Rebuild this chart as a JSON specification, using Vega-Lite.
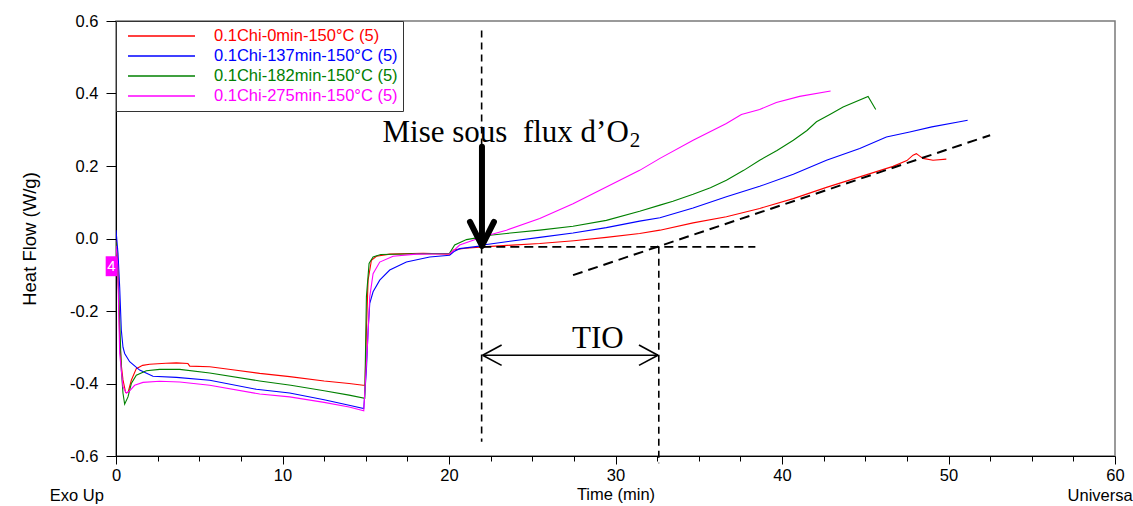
{
  "$schema": "https://vega.github.io/schema/vega-lite/v6.json",
  "width": 999,
  "height": 435,
  "autosize": {"type": "none"},
  "padding": {"left": 116, "top": 21, "right": 18, "bottom": 50},
  "background": "white",
  "config": {
    "font": "Liberation Sans",
    "view": {"stroke": "#7a7a7a", "strokeWidth": 1.5},
    "axis": {
      "labelFont": "Liberation Sans", "labelFontSize": 16.5, "labelColor": "black",
      "titleFont": "Liberation Sans", "titleFontSize": 16.5, "titleColor": "black", "titleFontWeight": "normal",
      "domainColor": "black", "domainWidth": 1, "tickColor": "black", "tickWidth": 1,
      "grid": false, "labelFlush": false, "labelOverlap": false, "labelBound": false
    }
  },
  "datasets": {
    "curves": [
      {"sample": "0.1Chi-0min-150°C (5)", "t": 0, "hf": -0.005},
      {"sample": "0.1Chi-0min-150°C (5)", "t": 0.1, "hf": -0.06},
      {"sample": "0.1Chi-0min-150°C (5)", "t": 0.22, "hf": -0.27},
      {"sample": "0.1Chi-0min-150°C (5)", "t": 0.32, "hf": -0.35},
      {"sample": "0.1Chi-0min-150°C (5)", "t": 0.42, "hf": -0.39},
      {"sample": "0.1Chi-0min-150°C (5)", "t": 0.58, "hf": -0.425},
      {"sample": "0.1Chi-0min-150°C (5)", "t": 0.72, "hf": -0.425},
      {"sample": "0.1Chi-0min-150°C (5)", "t": 0.92, "hf": -0.391},
      {"sample": "0.1Chi-0min-150°C (5)", "t": 1.22, "hf": -0.359},
      {"sample": "0.1Chi-0min-150°C (5)", "t": 1.6, "hf": -0.35},
      {"sample": "0.1Chi-0min-150°C (5)", "t": 2.02, "hf": -0.347},
      {"sample": "0.1Chi-0min-150°C (5)", "t": 3.0, "hf": -0.344},
      {"sample": "0.1Chi-0min-150°C (5)", "t": 3.63, "hf": -0.343},
      {"sample": "0.1Chi-0min-150°C (5)", "t": 4.32, "hf": -0.345},
      {"sample": "0.1Chi-0min-150°C (5)", "t": 4.43, "hf": -0.352},
      {"sample": "0.1Chi-0min-150°C (5)", "t": 5.63, "hf": -0.354},
      {"sample": "0.1Chi-0min-150°C (5)", "t": 7.0, "hf": -0.362},
      {"sample": "0.1Chi-0min-150°C (5)", "t": 8.63, "hf": -0.372},
      {"sample": "0.1Chi-0min-150°C (5)", "t": 10.43, "hf": -0.381},
      {"sample": "0.1Chi-0min-150°C (5)", "t": 12.5, "hf": -0.393},
      {"sample": "0.1Chi-0min-150°C (5)", "t": 14.0, "hf": -0.4},
      {"sample": "0.1Chi-0min-150°C (5)", "t": 14.84, "hf": -0.405},
      {"sample": "0.1Chi-0min-150°C (5)", "t": 14.96, "hf": -0.405},
      {"sample": "0.1Chi-0min-150°C (5)", "t": 15.04, "hf": -0.253},
      {"sample": "0.1Chi-0min-150°C (5)", "t": 15.14, "hf": -0.115},
      {"sample": "0.1Chi-0min-150°C (5)", "t": 15.34, "hf": -0.06},
      {"sample": "0.1Chi-0min-150°C (5)", "t": 15.64, "hf": -0.049},
      {"sample": "0.1Chi-0min-150°C (5)", "t": 16.44, "hf": -0.043},
      {"sample": "0.1Chi-0min-150°C (5)", "t": 18.45, "hf": -0.041},
      {"sample": "0.1Chi-0min-150°C (5)", "t": 20.04, "hf": -0.043},
      {"sample": "0.1Chi-0min-150°C (5)", "t": 20.3, "hf": -0.031},
      {"sample": "0.1Chi-0min-150°C (5)", "t": 21.0, "hf": -0.027},
      {"sample": "0.1Chi-0min-150°C (5)", "t": 22.04, "hf": -0.023},
      {"sample": "0.1Chi-0min-150°C (5)", "t": 23.5, "hf": -0.019},
      {"sample": "0.1Chi-0min-150°C (5)", "t": 25.45, "hf": -0.014},
      {"sample": "0.1Chi-0min-150°C (5)", "t": 27.5, "hf": -0.006},
      {"sample": "0.1Chi-0min-150°C (5)", "t": 29.45, "hf": 0.003},
      {"sample": "0.1Chi-0min-150°C (5)", "t": 31.45, "hf": 0.014},
      {"sample": "0.1Chi-0min-150°C (5)", "t": 32.67, "hf": 0.023},
      {"sample": "0.1Chi-0min-150°C (5)", "t": 34.66, "hf": 0.043},
      {"sample": "0.1Chi-0min-150°C (5)", "t": 36.66, "hf": 0.06},
      {"sample": "0.1Chi-0min-150°C (5)", "t": 38.66, "hf": 0.083},
      {"sample": "0.1Chi-0min-150°C (5)", "t": 40.68, "hf": 0.11},
      {"sample": "0.1Chi-0min-150°C (5)", "t": 42.67, "hf": 0.141},
      {"sample": "0.1Chi-0min-150°C (5)", "t": 44.67, "hf": 0.17},
      {"sample": "0.1Chi-0min-150°C (5)", "t": 46.67, "hf": 0.199},
      {"sample": "0.1Chi-0min-150°C (5)", "t": 47.5, "hf": 0.215},
      {"sample": "0.1Chi-0min-150°C (5)", "t": 47.87, "hf": 0.23},
      {"sample": "0.1Chi-0min-150°C (5)", "t": 48.07, "hf": 0.234},
      {"sample": "0.1Chi-0min-150°C (5)", "t": 48.25, "hf": 0.228},
      {"sample": "0.1Chi-0min-150°C (5)", "t": 48.47, "hf": 0.221},
      {"sample": "0.1Chi-0min-150°C (5)", "t": 49.07, "hf": 0.216},
      {"sample": "0.1Chi-0min-150°C (5)", "t": 49.87, "hf": 0.219},

      {"sample": "0.1Chi-137min-150°C (5)", "t": 0, "hf": 0.023},
      {"sample": "0.1Chi-137min-150°C (5)", "t": 0.12, "hf": -0.041},
      {"sample": "0.1Chi-137min-150°C (5)", "t": 0.22, "hf": -0.133},
      {"sample": "0.1Chi-137min-150°C (5)", "t": 0.32, "hf": -0.253},
      {"sample": "0.1Chi-137min-150°C (5)", "t": 0.42, "hf": -0.3},
      {"sample": "0.1Chi-137min-150°C (5)", "t": 0.52, "hf": -0.317},
      {"sample": "0.1Chi-137min-150°C (5)", "t": 0.82, "hf": -0.34},
      {"sample": "0.1Chi-137min-150°C (5)", "t": 1.42, "hf": -0.363},
      {"sample": "0.1Chi-137min-150°C (5)", "t": 2.22, "hf": -0.38},
      {"sample": "0.1Chi-137min-150°C (5)", "t": 3.63, "hf": -0.383},
      {"sample": "0.1Chi-137min-150°C (5)", "t": 5.63, "hf": -0.391},
      {"sample": "0.1Chi-137min-150°C (5)", "t": 8.43, "hf": -0.416},
      {"sample": "0.1Chi-137min-150°C (5)", "t": 10.43, "hf": -0.426},
      {"sample": "0.1Chi-137min-150°C (5)", "t": 12.5, "hf": -0.445},
      {"sample": "0.1Chi-137min-150°C (5)", "t": 14.0, "hf": -0.46},
      {"sample": "0.1Chi-137min-150°C (5)", "t": 14.88, "hf": -0.469},
      {"sample": "0.1Chi-137min-150°C (5)", "t": 15.04, "hf": -0.363},
      {"sample": "0.1Chi-137min-150°C (5)", "t": 15.14, "hf": -0.253},
      {"sample": "0.1Chi-137min-150°C (5)", "t": 15.24, "hf": -0.179},
      {"sample": "0.1Chi-137min-150°C (5)", "t": 15.44, "hf": -0.147},
      {"sample": "0.1Chi-137min-150°C (5)", "t": 15.84, "hf": -0.115},
      {"sample": "0.1Chi-137min-150°C (5)", "t": 16.44, "hf": -0.087},
      {"sample": "0.1Chi-137min-150°C (5)", "t": 17.44, "hf": -0.065},
      {"sample": "0.1Chi-137min-150°C (5)", "t": 18.84, "hf": -0.051},
      {"sample": "0.1Chi-137min-150°C (5)", "t": 20.04, "hf": -0.046},
      {"sample": "0.1Chi-137min-150°C (5)", "t": 20.3, "hf": -0.036},
      {"sample": "0.1Chi-137min-150°C (5)", "t": 20.64, "hf": -0.028},
      {"sample": "0.1Chi-137min-150°C (5)", "t": 21.84, "hf": -0.021},
      {"sample": "0.1Chi-137min-150°C (5)", "t": 22.04, "hf": -0.018},
      {"sample": "0.1Chi-137min-150°C (5)", "t": 23.45, "hf": -0.009},
      {"sample": "0.1Chi-137min-150°C (5)", "t": 25.45, "hf": 0.003},
      {"sample": "0.1Chi-137min-150°C (5)", "t": 27.45, "hf": 0.015},
      {"sample": "0.1Chi-137min-150°C (5)", "t": 29.45, "hf": 0.03},
      {"sample": "0.1Chi-137min-150°C (5)", "t": 31.45, "hf": 0.048},
      {"sample": "0.1Chi-137min-150°C (5)", "t": 32.67, "hf": 0.057},
      {"sample": "0.1Chi-137min-150°C (5)", "t": 34.66, "hf": 0.084},
      {"sample": "0.1Chi-137min-150°C (5)", "t": 36.66, "hf": 0.115},
      {"sample": "0.1Chi-137min-150°C (5)", "t": 38.66, "hf": 0.144},
      {"sample": "0.1Chi-137min-150°C (5)", "t": 40.68, "hf": 0.177},
      {"sample": "0.1Chi-137min-150°C (5)", "t": 42.67, "hf": 0.216},
      {"sample": "0.1Chi-137min-150°C (5)", "t": 44.67, "hf": 0.248},
      {"sample": "0.1Chi-137min-150°C (5)", "t": 46.27, "hf": 0.28},
      {"sample": "0.1Chi-137min-150°C (5)", "t": 47.67, "hf": 0.294},
      {"sample": "0.1Chi-137min-150°C (5)", "t": 49.0, "hf": 0.308},
      {"sample": "0.1Chi-137min-150°C (5)", "t": 50.67, "hf": 0.322},
      {"sample": "0.1Chi-137min-150°C (5)", "t": 51.15, "hf": 0.326},

      {"sample": "0.1Chi-182min-150°C (5)", "t": 0, "hf": -0.01},
      {"sample": "0.1Chi-182min-150°C (5)", "t": 0.1, "hf": -0.08},
      {"sample": "0.1Chi-182min-150°C (5)", "t": 0.22, "hf": -0.225},
      {"sample": "0.1Chi-182min-150°C (5)", "t": 0.32, "hf": -0.363},
      {"sample": "0.1Chi-182min-150°C (5)", "t": 0.42, "hf": -0.427},
      {"sample": "0.1Chi-182min-150°C (5)", "t": 0.52, "hf": -0.457},
      {"sample": "0.1Chi-182min-150°C (5)", "t": 0.72, "hf": -0.437},
      {"sample": "0.1Chi-182min-150°C (5)", "t": 0.92, "hf": -0.4},
      {"sample": "0.1Chi-182min-150°C (5)", "t": 1.22, "hf": -0.377},
      {"sample": "0.1Chi-182min-150°C (5)", "t": 1.82, "hf": -0.365},
      {"sample": "0.1Chi-182min-150°C (5)", "t": 2.62, "hf": -0.361},
      {"sample": "0.1Chi-182min-150°C (5)", "t": 3.83, "hf": -0.361},
      {"sample": "0.1Chi-182min-150°C (5)", "t": 5.63, "hf": -0.371},
      {"sample": "0.1Chi-182min-150°C (5)", "t": 8.63, "hf": -0.393},
      {"sample": "0.1Chi-182min-150°C (5)", "t": 10.5, "hf": -0.405},
      {"sample": "0.1Chi-182min-150°C (5)", "t": 12.5, "hf": -0.42},
      {"sample": "0.1Chi-182min-150°C (5)", "t": 14.0, "hf": -0.432},
      {"sample": "0.1Chi-182min-150°C (5)", "t": 14.94, "hf": -0.441},
      {"sample": "0.1Chi-182min-150°C (5)", "t": 15.04, "hf": -0.161},
      {"sample": "0.1Chi-182min-150°C (5)", "t": 15.2, "hf": -0.069},
      {"sample": "0.1Chi-182min-150°C (5)", "t": 15.44, "hf": -0.051},
      {"sample": "0.1Chi-182min-150°C (5)", "t": 15.9, "hf": -0.044},
      {"sample": "0.1Chi-182min-150°C (5)", "t": 18.0, "hf": -0.042},
      {"sample": "0.1Chi-182min-150°C (5)", "t": 20.03, "hf": -0.041},
      {"sample": "0.1Chi-182min-150°C (5)", "t": 20.34, "hf": -0.018},
      {"sample": "0.1Chi-182min-150°C (5)", "t": 21.05, "hf": -0.003},
      {"sample": "0.1Chi-182min-150°C (5)", "t": 21.84, "hf": 0.003},
      {"sample": "0.1Chi-182min-150°C (5)", "t": 22.04, "hf": 0.007},
      {"sample": "0.1Chi-182min-150°C (5)", "t": 23.45, "hf": 0.014},
      {"sample": "0.1Chi-182min-150°C (5)", "t": 25.45, "hf": 0.023},
      {"sample": "0.1Chi-182min-150°C (5)", "t": 27.45, "hf": 0.034},
      {"sample": "0.1Chi-182min-150°C (5)", "t": 29.45, "hf": 0.05},
      {"sample": "0.1Chi-182min-150°C (5)", "t": 31.45, "hf": 0.075},
      {"sample": "0.1Chi-182min-150°C (5)", "t": 32.67, "hf": 0.092},
      {"sample": "0.1Chi-182min-150°C (5)", "t": 33.45, "hf": 0.103},
      {"sample": "0.1Chi-182min-150°C (5)", "t": 34.66, "hf": 0.122},
      {"sample": "0.1Chi-182min-150°C (5)", "t": 35.7, "hf": 0.14},
      {"sample": "0.1Chi-182min-150°C (5)", "t": 36.66, "hf": 0.161},
      {"sample": "0.1Chi-182min-150°C (5)", "t": 37.7, "hf": 0.188},
      {"sample": "0.1Chi-182min-150°C (5)", "t": 38.66, "hf": 0.216},
      {"sample": "0.1Chi-182min-150°C (5)", "t": 39.7, "hf": 0.243},
      {"sample": "0.1Chi-182min-150°C (5)", "t": 40.68, "hf": 0.271},
      {"sample": "0.1Chi-182min-150°C (5)", "t": 41.5, "hf": 0.298},
      {"sample": "0.1Chi-182min-150°C (5)", "t": 42.07, "hf": 0.322},
      {"sample": "0.1Chi-182min-150°C (5)", "t": 42.9, "hf": 0.343},
      {"sample": "0.1Chi-182min-150°C (5)", "t": 43.67, "hf": 0.363},
      {"sample": "0.1Chi-182min-150°C (5)", "t": 45.17, "hf": 0.392},
      {"sample": "0.1Chi-182min-150°C (5)", "t": 45.63, "hf": 0.356},

      {"sample": "0.1Chi-275min-150°C (5)", "t": 0, "hf": -0.02},
      {"sample": "0.1Chi-275min-150°C (5)", "t": 0.1, "hf": -0.07},
      {"sample": "0.1Chi-275min-150°C (5)", "t": 0.22, "hf": -0.317},
      {"sample": "0.1Chi-275min-150°C (5)", "t": 0.42, "hf": -0.409},
      {"sample": "0.1Chi-275min-150°C (5)", "t": 0.62, "hf": -0.427},
      {"sample": "0.1Chi-275min-150°C (5)", "t": 0.82, "hf": -0.42},
      {"sample": "0.1Chi-275min-150°C (5)", "t": 1.12, "hf": -0.405},
      {"sample": "0.1Chi-275min-150°C (5)", "t": 1.62, "hf": -0.397},
      {"sample": "0.1Chi-275min-150°C (5)", "t": 2.62, "hf": -0.394},
      {"sample": "0.1Chi-275min-150°C (5)", "t": 3.83, "hf": -0.396},
      {"sample": "0.1Chi-275min-150°C (5)", "t": 5.63, "hf": -0.405},
      {"sample": "0.1Chi-275min-150°C (5)", "t": 8.63, "hf": -0.429},
      {"sample": "0.1Chi-275min-150°C (5)", "t": 10.43, "hf": -0.437},
      {"sample": "0.1Chi-275min-150°C (5)", "t": 12.5, "hf": -0.452},
      {"sample": "0.1Chi-275min-150°C (5)", "t": 14.0, "hf": -0.465},
      {"sample": "0.1Chi-275min-150°C (5)", "t": 14.88, "hf": -0.475},
      {"sample": "0.1Chi-275min-150°C (5)", "t": 15.04, "hf": -0.345},
      {"sample": "0.1Chi-275min-150°C (5)", "t": 15.14, "hf": -0.262},
      {"sample": "0.1Chi-275min-150°C (5)", "t": 15.24, "hf": -0.161},
      {"sample": "0.1Chi-275min-150°C (5)", "t": 15.44, "hf": -0.097},
      {"sample": "0.1Chi-275min-150°C (5)", "t": 15.84, "hf": -0.065},
      {"sample": "0.1Chi-275min-150°C (5)", "t": 16.64, "hf": -0.049},
      {"sample": "0.1Chi-275min-150°C (5)", "t": 18.04, "hf": -0.043},
      {"sample": "0.1Chi-275min-150°C (5)", "t": 20.04, "hf": -0.042},
      {"sample": "0.1Chi-275min-150°C (5)", "t": 20.24, "hf": -0.035},
      {"sample": "0.1Chi-275min-150°C (5)", "t": 20.64, "hf": -0.018},
      {"sample": "0.1Chi-275min-150°C (5)", "t": 21.45, "hf": -0.005},
      {"sample": "0.1Chi-275min-150°C (5)", "t": 22.04, "hf": 0.005},
      {"sample": "0.1Chi-275min-150°C (5)", "t": 23.45, "hf": 0.023},
      {"sample": "0.1Chi-275min-150°C (5)", "t": 25.45, "hf": 0.055},
      {"sample": "0.1Chi-275min-150°C (5)", "t": 27.45, "hf": 0.096},
      {"sample": "0.1Chi-275min-150°C (5)", "t": 29.45, "hf": 0.142},
      {"sample": "0.1Chi-275min-150°C (5)", "t": 31.45, "hf": 0.188},
      {"sample": "0.1Chi-275min-150°C (5)", "t": 32.67, "hf": 0.221},
      {"sample": "0.1Chi-275min-150°C (5)", "t": 34.66, "hf": 0.271},
      {"sample": "0.1Chi-275min-150°C (5)", "t": 36.66, "hf": 0.317},
      {"sample": "0.1Chi-275min-150°C (5)", "t": 37.56, "hf": 0.342},
      {"sample": "0.1Chi-275min-150°C (5)", "t": 38.66, "hf": 0.356},
      {"sample": "0.1Chi-275min-150°C (5)", "t": 39.66, "hf": 0.375},
      {"sample": "0.1Chi-275min-150°C (5)", "t": 41.06, "hf": 0.392},
      {"sample": "0.1Chi-275min-150°C (5)", "t": 42.92, "hf": 0.407}
    ],
    "vdash": [
      {"t": 21.96, "hf": 0.574, "t2": 21.96, "hf2": -0.561},
      {"t": 32.6, "hf": -0.023, "t2": 32.6, "hf2": -0.62}
    ],
    "hdash": [
      {"t": 22.0, "hf": -0.023, "t2": 38.4, "hf2": -0.023}
    ],
    "tangent": [
      {"t": 27.45, "hf": -0.101, "t2": 52.5, "hf2": 0.285}
    ],
    "bigarrow": [
      {"t": 21.98, "hf": 0.253, "t2": 21.98, "hf2": -0.01},
      {"t": 21.26, "hf": 0.046, "t2": 21.98, "hf2": -0.02},
      {"t": 22.7, "hf": 0.046, "t2": 21.98, "hf2": -0.02}
    ],
    "tioarrow": [
      {"t": 22.02, "hf": -0.322, "t2": 32.55, "hf2": -0.322},
      {"t": 22.02, "hf": -0.322, "t2": 23.16, "hf2": -0.294},
      {"t": 22.02, "hf": -0.322, "t2": 23.16, "hf2": -0.35},
      {"t": 32.55, "hf": -0.322, "t2": 31.41, "hf2": -0.294},
      {"t": 32.55, "hf": -0.322, "t2": 31.41, "hf2": -0.35}
    ],
    "serifbig": [
      {"t": 30.8, "hf": 0.266, "label": "Mise sous\u00a0 flux d’O"},
      {"t": 28.94, "hf": -0.303, "label": "TIO"}
    ],
    "serifsub": [
      {"t": 30.85, "hf": 0.252, "label": "2"}
    ],
    "corner": [
      {"t": -3.98, "hf": -0.725, "label": "Exo Up"},
      {"t": 57.15, "hf": -0.725, "label": "Universa"}
    ],
    "marker": [
      {"t": -0.62, "hf": -0.049, "t2": 0.06, "hf2": -0.104, "label": "4", "tc": -0.28, "hc": -0.077}
    ]
  },
  "encoding": {
    "x": {"field": "t", "type": "quantitative", "scale": {"domain": [0, 60], "nice": false, "zero": false}},
    "y": {"field": "hf", "type": "quantitative", "scale": {"domain": [-0.6, 0.6], "nice": false, "zero": false}}
  },
  "layer": [
    {
      "data": {"name": "curves"},
      "mark": {"type": "line", "strokeWidth": 1.1, "clip": true},
      "encoding": {
        "x": {"field": "t", "type": "quantitative",
          "axis": {
            "title": "Time (min)", "titlePadding": 3,
            "values": [0, 2.5, 5, 7.5, 10, 12.5, 15, 17.5, 20, 22.5, 25, 27.5, 30, 32.5, 35, 37.5, 40, 42.5, 45, 47.5, 50, 52.5, 55, 57.5, 60],
            "labelExpr": "datum.value % 10 === 0 ? format(datum.value, 'd') : ''",
            "tickSize": {"condition": {"test": "datum.value % 10 === 0", "value": 8}, "value": 5},
            "labelPadding": 3
          }
        },
        "y": {"field": "hf", "type": "quantitative",
          "axis": {
            "title": "Heat Flow (W/g)", "titlePadding": 30, "titleFontSize": 18.5,
            "values": [-0.6, -0.55, -0.5, -0.45, -0.4, -0.35, -0.3, -0.25, -0.2, -0.15, -0.1, -0.05, 0, 0.05, 0.1, 0.15, 0.2, 0.25, 0.3, 0.35, 0.4, 0.45, 0.5, 0.55, 0.6],
            "labelExpr": "round(datum.value * 100) % 20 === 0 ? (datum.value < -0.001 ? '-' + format(-datum.value, '.1f') : format(abs(datum.value), '.1f')) : ''",
            "tickSize": {"condition": {"test": "round(datum.value * 100) % 20 === 0", "value": 10}, "value": 5},
            "labelPadding": 8
          }
        },
        "color": {
          "field": "sample", "type": "nominal",
          "scale": {
            "domain": ["0.1Chi-0min-150°C (5)", "0.1Chi-137min-150°C (5)", "0.1Chi-182min-150°C (5)", "0.1Chi-275min-150°C (5)"],
            "range": ["#ff0000", "#0000ff", "#008000", "#ff00ff"]
          },
          "legend": {
            "title": null, "orient": "none", "legendX": 0, "legendY": 0,
            "symbolType": "stroke", "symbolSize": 4489, "symbolStrokeWidth": 1.5, "clipHeight": 20,
            "labelFont": "Liberation Sans", "labelFontSize": 16.5, "labelOffset": 18, "rowPadding": 0,
            "padding": 5, "symbolOffset": 6, "strokeColor": "#333333", "fillColor": "white",
            "labelLimit": 400,
            "encode": {"labels": {"update": {"fill": {"scale": "color", "field": "value"}}}}
          }
        }
      }
    },
    {
      "data": {"name": "vdash"},
      "mark": {"type": "rule", "color": "black", "strokeWidth": 1.6, "strokeDash": [7, 5]},
      "encoding": {"x2": {"field": "t2"}, "y2": {"field": "hf2"}}
    },
    {
      "data": {"name": "hdash"},
      "mark": {"type": "rule", "color": "black", "strokeWidth": 1.6, "strokeDash": [9, 5]},
      "encoding": {"x2": {"field": "t2"}, "y2": {"field": "hf2"}}
    },
    {
      "data": {"name": "tangent"},
      "mark": {"type": "rule", "color": "black", "strokeWidth": 2, "strokeDash": [10, 6]},
      "encoding": {"x2": {"field": "t2"}, "y2": {"field": "hf2"}}
    },
    {
      "data": {"name": "bigarrow"},
      "mark": {"type": "rule", "color": "black", "strokeWidth": 6, "strokeCap": "round"},
      "encoding": {"x2": {"field": "t2"}, "y2": {"field": "hf2"}}
    },
    {
      "data": {"name": "tioarrow"},
      "mark": {"type": "rule", "color": "black", "strokeWidth": 1.6},
      "encoding": {"x2": {"field": "t2"}, "y2": {"field": "hf2"}}
    },
    {
      "data": {"name": "serifbig"},
      "mark": {"type": "text", "font": "Liberation Serif", "fontSize": 31, "align": {"expr": "datum.label === 'TIO' ? 'center' : 'right'"}, "baseline": "alphabetic", "color": "black"},
      "encoding": {"text": {"field": "label"}}
    },
    {
      "data": {"name": "serifsub"},
      "mark": {"type": "text", "font": "Liberation Serif", "fontSize": 21, "align": "left", "baseline": "alphabetic", "color": "black"},
      "encoding": {"text": {"field": "label"}}
    },
    {
      "data": {"name": "corner"},
      "mark": {"type": "text", "font": "Liberation Sans", "fontSize": 16.5, "align": "left", "baseline": "alphabetic", "color": "black"},
      "encoding": {"text": {"field": "label"}}
    },
    {
      "data": {"name": "marker"},
      "mark": {"type": "rect", "color": "#ff00ff"},
      "encoding": {"x2": {"field": "t2"}, "y2": {"field": "hf2"}}
    },
    {
      "data": {"name": "marker"},
      "mark": {"type": "text", "font": "Liberation Sans", "fontSize": 15, "align": "center", "baseline": "middle", "color": "white"},
      "encoding": {
        "x": {"field": "tc", "type": "quantitative"},
        "y": {"field": "hc", "type": "quantitative"},
        "text": {"field": "label"}
      }
    }
  ]
}
